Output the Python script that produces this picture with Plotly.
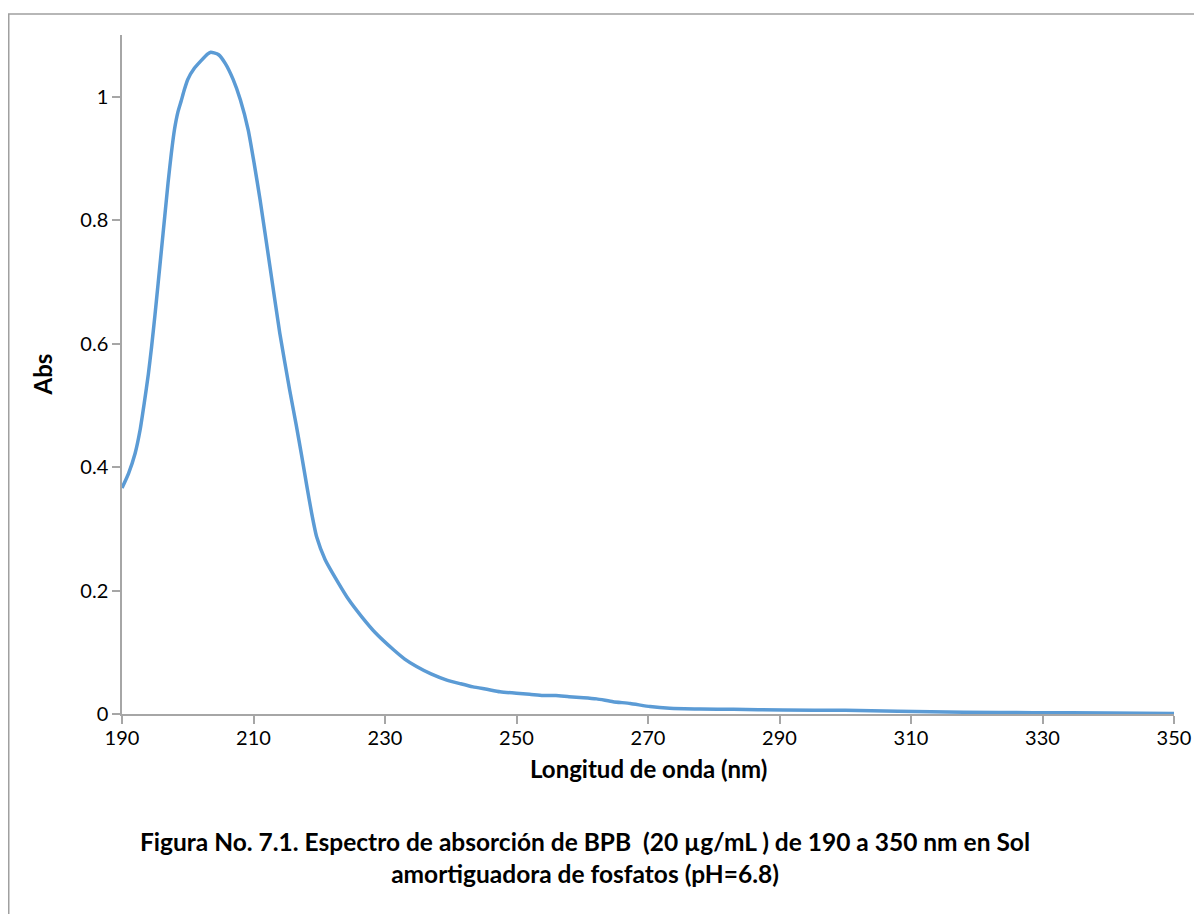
import plotly.graph_objects as go

wavelength = [190, 191, 192, 192.75, 193.4, 194, 194.5, 195, 195.5, 196, 196.5, 197, 197.5,
              198, 198.5, 199, 199.5, 200, 201, 202, 203, 203.5, 204, 204.7, 205.7, 206.9,
              208, 209.2, 210.1, 211.0, 212.5, 214.0, 215.5, 216.5, 217.3, 218.1,
              218.85, 219.6, 220.9, 222.65, 224.5, 226.5, 228.5, 231.3, 233, 234.8, 237,
              239.4, 241.5, 243.4, 245.5, 247.5, 250, 252, 254, 256, 258, 260.2, 262.2, 264.7,
              267.3, 270.3, 273.3, 278, 283, 290.5, 300, 308, 318, 328.6, 340, 350]
absorbance = [0.366, 0.390, 0.4225, 0.46, 0.505, 0.55, 0.595, 0.645, 0.698, 0.752, 0.806, 0.860,
              0.908, 0.948, 0.975, 0.993, 1.012, 1.028, 1.046, 1.058, 1.069, 1.072, 1.071, 1.068,
              1.054, 1.028, 0.995, 0.946, 0.892, 0.833, 0.725, 0.617, 0.525, 0.468,
              0.42, 0.37, 0.325, 0.287, 0.250, 0.217, 0.185, 0.157, 0.132, 0.104, 0.089, 0.077,
              0.065, 0.055, 0.049, 0.044, 0.040, 0.036, 0.0335, 0.032, 0.030, 0.030, 0.028,
              0.0265, 0.0245, 0.020, 0.017, 0.012, 0.0092, 0.008, 0.0075, 0.0065, 0.006, 0.0045,
              0.003, 0.0022, 0.0015, 0.001]

x_ticks = [190, 210, 230, 250, 270, 290, 310, 330, 350]
y_ticks = [0, 0.2, 0.4, 0.6, 0.8, 1]
y_tick_labels = ["0", "0.2", "0.4", "0.6", "0.8", "1"]

x_title = "Longitud de onda (nm)"
y_title = "Abs"
caption = ("Figura No. 7.1. Espectro de absorción de BPB  (20 µg/mL ) de 190 a 350 nm en Sol<br>"
           "amortiguadora de fosfatos (pH=6.8)")

FONT = "Lato"
AXIS_COLOR = "#A6A6A6"

# page body has an 8px margin; size the figure so the visible frame matches
W, H = 1194, 906
L, R, T, B = 114, 28, 27, 200
PW, PH = W - L - R, H - T - B


def px_x(x):
    return (x - L) / PW


def px_y(y):
    return (H - B - y) / PH


fig = go.Figure()
fig.add_trace(go.Scatter(x=wavelength, y=absorbance, mode="lines",
                         line=dict(color="#5B9BD5", width=3.5, shape="spline", smoothing=0.5),
                         showlegend=False, hoverinfo="x+y"))

fig.update_layout(
    width=W, height=H,
    margin=dict(l=L, r=R, t=T, b=B),
    paper_bgcolor="white", plot_bgcolor="white",
    font=dict(family=FONT, size=20, color="black"),
    xaxis=dict(range=[190, 350], tickvals=x_ticks, ticks="outside", ticklen=8,
               tickcolor=AXIS_COLOR, tickwidth=1.5, showline=True, linecolor=AXIS_COLOR,
               linewidth=1.5, showgrid=False, zeroline=False, ticklabelstandoff=-3,
               tickfont=dict(family=FONT, size=20, color="black")),
    yaxis=dict(range=[0, 1.1], tickvals=y_ticks, ticktext=y_tick_labels, ticks="outside",
               ticklen=8, tickcolor=AXIS_COLOR, tickwidth=1.5, showline=True,
               linecolor=AXIS_COLOR, linewidth=1.5, showgrid=False, zeroline=False,
               tickfont=dict(family=FONT, size=20, color="black")),
)

fig.add_annotation(text="<b>" + x_title + "</b>", xref="paper", yref="paper",
                   x=0.5, y=px_y(760), xanchor="center", yanchor="middle",
                   showarrow=False, font=dict(family=FONT, size=24, color="black"))
fig.add_annotation(text="<b>" + y_title + "</b>", xref="paper", yref="paper",
                   x=px_x(34), y=0.5, xanchor="center", yanchor="middle", textangle=-90,
                   showarrow=False, font=dict(family=FONT, size=24, color="black"))
fig.add_annotation(text="<b>" + caption + "</b>", xref="paper", yref="paper",
                   x=px_x(577), y=px_y(850), xanchor="center", yanchor="middle",
                   showarrow=False, align="center",
                   font=dict(family=FONT, size=24.5, color="black"))

fig.add_shape(type="rect", xref="paper", yref="paper",
              x0=px_x(0.75), x1=1.2, y0=-0.5, y1=px_y(6),
              line=dict(color="#A0A0A0", width=1.5), fillcolor="rgba(0,0,0,0)", layer="below")

fig.write_html("out.html")
